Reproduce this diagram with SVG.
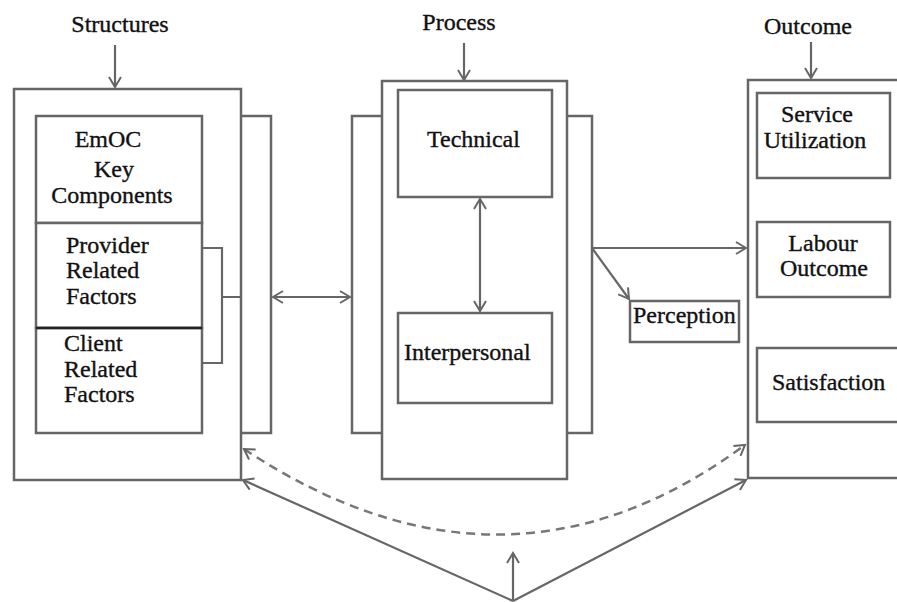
<svg xmlns="http://www.w3.org/2000/svg" width="897" height="602" viewBox="0 0 897 602">
<style>
.box{fill:#fff;stroke:#666;stroke-width:2.5}
.ln{fill:none;stroke:#666;stroke-width:2.2}
.dash{fill:none;stroke:#777;stroke-width:2.5;stroke-dasharray:9 6}
.t{font-family:'Liberation Serif','Times New Roman',serif;font-size:24px;fill:#111;stroke:#111;stroke-width:0.35}
.c{text-anchor:middle}
</style>
<defs>
<marker id="ah" markerWidth="14" markerHeight="14" refX="11" refY="7" orient="auto-start-reverse" markerUnits="userSpaceOnUse">
<path d="M1,1 L11,7 L1,13" fill="none" stroke="#666" stroke-width="2"/>
</marker>
</defs>
<rect width="897" height="602" fill="#fff"/>

<g id="structures">
<rect class="box" x="200" y="116" width="71" height="317"/>
<rect class="box" x="14" y="89" width="227" height="391"/>
<text class="t c" x="120" y="32">Structures</text>
<rect class="box" x="36" y="116" width="166" height="107"/>
<text class="t c" x="108" y="147">EmOC</text>
<text class="t c" x="114" y="177">Key</text>
<text class="t c" x="112" y="203">Components</text>
<rect class="box" x="36" y="223" width="166" height="105"/>
<text class="t" x="66" y="253">Provider</text>
<text class="t" x="66" y="278">Related</text>
<text class="t" x="66" y="304">Factors</text>
<rect class="box" x="36" y="328" width="166" height="105"/>
<line x1="36" y1="328" x2="202" y2="328" stroke="#222" stroke-width="2.5"/>
<text class="t" x="64" y="351">Client</text>
<text class="t" x="64" y="377">Related</text>
<text class="t" x="64" y="402">Factors</text>
<path class="ln" d="M202,248 H222 V363 H202 M222,297 H241"/>
</g>

<g id="process">
<rect class="box" x="352" y="116" width="240" height="317"/>
<rect class="box" x="382" y="81" width="185" height="398"/>
<text class="t c" x="459" y="30">Process</text>
<rect class="box" x="398" y="90" width="154" height="107"/>
<text class="t" x="427" y="147">Technical</text>
<rect class="box" x="398" y="313" width="154" height="90"/>
<text class="t" x="404" y="360">Interpersonal</text>
</g>

<g id="perception">
<rect class="box" x="630" y="301" width="109" height="41"/>
<text class="t" x="633" y="323">Perception</text>
</g>

<g id="outcome">
<rect class="box" x="748" y="80" width="160" height="398"/>
<text class="t c" x="808" y="34">Outcome</text>
<rect class="box" x="757" y="93" width="133" height="85"/>
<text class="t c" x="817" y="122">Service</text>
<text class="t c" x="815" y="148">Utilization</text>
<rect class="box" x="757" y="222" width="133" height="75"/>
<text class="t c" x="823" y="251" font-size="23">Labour</text>
<text class="t c" x="824" y="276" font-size="23">Outcome</text>
<rect class="box" x="757" y="348" width="150" height="74"/>
<text class="t" x="772" y="390">Satisfaction</text>
</g>

<g id="connectors">
<line class="ln" x1="115" y1="45" x2="115" y2="87" marker-end="url(#ah)"/>
<line class="ln" x1="464" y1="43" x2="464" y2="80" marker-end="url(#ah)"/>
<line class="ln" x1="811" y1="42" x2="811" y2="78" marker-end="url(#ah)"/>
<line class="ln" x1="273" y1="297" x2="350" y2="297" marker-start="url(#ah)" marker-end="url(#ah)"/>
<line class="ln" x1="480" y1="199" x2="480" y2="311" marker-start="url(#ah)" marker-end="url(#ah)"/>
<line class="ln" x1="592" y1="248" x2="746" y2="248" marker-end="url(#ah)"/>
<line class="ln" x1="592" y1="248" x2="629" y2="299" marker-end="url(#ah)"/>
<line class="ln" x1="513" y1="601" x2="243" y2="480" marker-end="url(#ah)"/>
<line class="ln" x1="513" y1="601" x2="746" y2="480" marker-end="url(#ah)"/>
<line class="ln" x1="513" y1="601" x2="513" y2="553" marker-end="url(#ah)"/>
<path class="dash" d="M244,449 Q505,622 745,445" marker-start="url(#ah)" marker-end="url(#ah)"/>
</g>
</svg>
